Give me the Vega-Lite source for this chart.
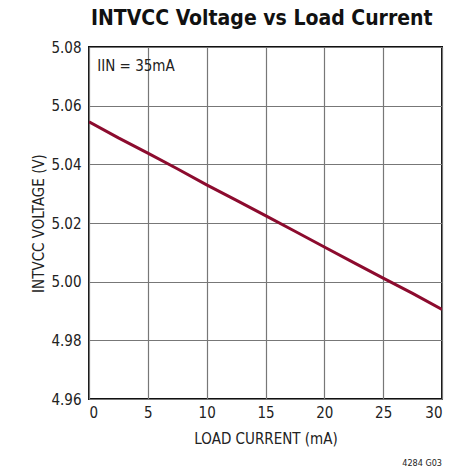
{
  "$schema": "https://vega.github.io/schema/vega-lite/v6.json",
  "width": 353,
  "height": 352,
  "autosize": {"type": "none"},
  "padding": {"left": 89, "top": 47, "right": 24, "bottom": 70},
  "background": "white",
  "title": {
    "text": "INTVCC Voltage vs Load Current",
    "font": "DejaVu Sans Condensed, Roboto, sans-serif",
    "fontSize": 21,
    "fontWeight": "bold",
    "color": "#111111",
    "anchor": "start",
    "frame": "group",
    "dx": 2,
    "offset": 11
  },
  "config": {
    "view": {"stroke": "#111111", "strokeWidth": 2},
    "axis": {
      "labelFont": "DejaVu Sans Condensed, Roboto, sans-serif",
      "titleFont": "DejaVu Sans Condensed, Roboto, sans-serif",
      "labelFontSize": 15,
      "titleFontSize": 15,
      "labelColor": "#222222",
      "titleColor": "#222222",
      "titleFontWeight": "normal",
      "ticks": false,
      "domain": false,
      "gridColor": "#777777",
      "gridOpacity": 1,
      "gridWidth": 1.2
    }
  },
  "data": {
    "values": [
      {"current": 0, "voltage": 5.0545},
      {"current": 2.5, "voltage": 5.0490},
      {"current": 5, "voltage": 5.0438},
      {"current": 7.5, "voltage": 5.0385},
      {"current": 10, "voltage": 5.0330},
      {"current": 12.5, "voltage": 5.0278},
      {"current": 15, "voltage": 5.0225},
      {"current": 17.5, "voltage": 5.0172},
      {"current": 20, "voltage": 5.0118},
      {"current": 22.5, "voltage": 5.0065},
      {"current": 25, "voltage": 5.0012},
      {"current": 27.5, "voltage": 4.9960},
      {"current": 30, "voltage": 4.9905}
    ]
  },
  "layer": [
    {
      "mark": {"type": "line", "color": "#8c0b2e", "strokeWidth": 3, "clip": true},
      "encoding": {
        "x": {
          "field": "current", "type": "quantitative",
          "scale": {"domain": [0, 30], "nice": false},
          "axis": {"values": [0, 5, 10, 15, 20, 25, 30], "title": "LOAD CURRENT (mA)", "labelPadding": 6, "titlePadding": 11}
        },
        "y": {
          "field": "voltage", "type": "quantitative",
          "scale": {"domain": [4.96, 5.08], "nice": false, "zero": false},
          "axis": {"values": [4.96, 4.98, 5.0, 5.02, 5.04, 5.06, 5.08], "format": ".2f", "title": "INTVCC VOLTAGE (V)", "labelPadding": 8, "titlePadding": 4}
        }
      }
    },
    {
      "data": {"values": [{"current": 0.7, "voltage": 5.0735, "label": "IIN = 35mA"}]},
      "mark": {"type": "text", "align": "left", "baseline": "middle", "font": "DejaVu Sans Condensed, Roboto, sans-serif", "fontSize": 15, "color": "#222222"},
      "encoding": {
        "x": {"field": "current", "type": "quantitative"},
        "y": {"field": "voltage", "type": "quantitative"},
        "text": {"field": "label"}
      }
    },
    {
      "data": {"values": [{"current": 30, "voltage": 4.96, "label": "4284 G03"}]},
      "mark": {"type": "text", "align": "right", "baseline": "middle", "dy": 64, "font": "DejaVu Sans Condensed, Roboto, sans-serif", "fontSize": 9, "color": "#222222"},
      "encoding": {
        "x": {"field": "current", "type": "quantitative"},
        "y": {"field": "voltage", "type": "quantitative"},
        "text": {"field": "label"}
      }
    }
  ]
}
